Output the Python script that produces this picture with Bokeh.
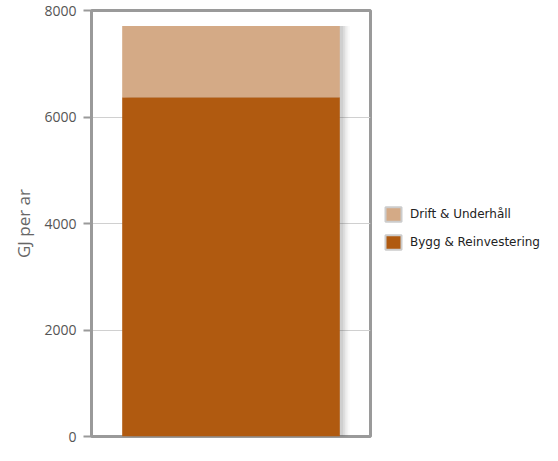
from bokeh.plotting import figure
from bokeh.layouts import row
from bokeh.models import Range1d, FactorRange, Legend, LegendItem, ColumnDataSource
from bokeh.transform import dodge
from bokeh.embed import file_html
from bokeh.resources import INLINE

categories = ["Total"]
bygg = [6370]
drift = [1340]
series_names = ["Bygg & Reinvestering", "Drift & Underhåll"]
colors = ["#B05A10", "#D4AA86"]
y_ticks = [0, 2000, 4000, 6000, 8000]

src = ColumnDataSource(dict(x=categories, bygg=bygg, drift=drift,
                            total=[b + d for b, d in zip(bygg, drift)]))

p = figure(frame_width=279, frame_height=426,
           x_range=FactorRange(factors=categories, range_padding=0),
           y_range=Range1d(0, 8000), output_backend="svg", toolbar_location=None,
           min_border_left=91, min_border_top=10, min_border_bottom=9, min_border_right=3)

# soft shadow to the right of the bar
for i, a in enumerate([0.10, 0.08, 0.06, 0.04, 0.03]):
    p.vbar(x=dodge("x", 0.012 + 0.006 * i, range=p.x_range), top="total", bottom=0, width=0.78,
           source=src, fill_color="#555555", fill_alpha=a, line_color=None)

p.vbar_stack(["bygg", "drift"], x="x", width=0.78, source=src, color=colors, line_color=None)

p.xaxis.visible = False
p.xgrid.visible = False
p.ygrid.grid_line_color = "#d0d0d0"
p.ygrid.grid_line_width = 1
p.yaxis.ticker = y_ticks
p.yaxis.axis_line_color = "#9a9a9a"
p.yaxis.axis_line_width = 3
p.yaxis.major_tick_line_color = "#9a9a9a"
p.yaxis.major_tick_line_width = 2
p.yaxis.major_tick_out = 8
p.yaxis.major_tick_in = 0
p.yaxis.minor_tick_line_color = None
p.yaxis.major_label_text_font = "Open Sans"
p.yaxis.major_label_text_font_size = "14px"
p.yaxis.major_label_text_color = "#555555"
p.yaxis.major_label_standoff = 7
p.yaxis.axis_label = "GJ per ar"
p.yaxis.axis_label_text_font = "Open Sans"
p.yaxis.axis_label_text_font_style = "normal"
p.yaxis.axis_label_text_font_size = "17px"
p.yaxis.axis_label_text_color = "#666666"
p.yaxis.axis_label_standoff = 6
p.outline_line_color = "#9a9a9a"
p.outline_line_width = 3
p.outline_line_alpha = 1

# legend panel: a second, axis-less figure whose hidden bars carry the swatches
lg = figure(width=169, height=445, x_range=FactorRange(factors=categories),
            y_range=Range1d(0, 8000), output_backend="svg", toolbar_location=None,
            x_axis_location=None, y_axis_location=None,
            min_border_left=0, min_border_right=0, min_border_top=0, min_border_bottom=0)
lg.grid.visible = False
lg.outline_line_color = None
lrs = lg.vbar_stack(["bygg", "drift"], x="x", width=0.78, source=src, color=colors,
                    line_color="#cccccc", line_width=2)
for r in lrs:
    r.visible = False

legend = Legend(items=[LegendItem(label=series_names[1], renderers=[lrs[1]]),
                       LegendItem(label=series_names[0], renderers=[lrs[0]])],
                location=(10, 185))
legend.label_text_font = "DejaVu Sans"
legend.label_text_font_size = "12px"
legend.label_text_color = "#222222"
legend.glyph_width = 20
legend.glyph_height = 18
legend.spacing = 10
legend.label_standoff = 7
legend.border_line_color = None
legend.background_fill_alpha = 0
legend.inactive_fill_alpha = 0
legend.padding = 0
legend.margin = 0
lg.add_layout(legend)

layout = row(p, lg)
open("out.html", "w").write(file_html(layout, INLINE))
